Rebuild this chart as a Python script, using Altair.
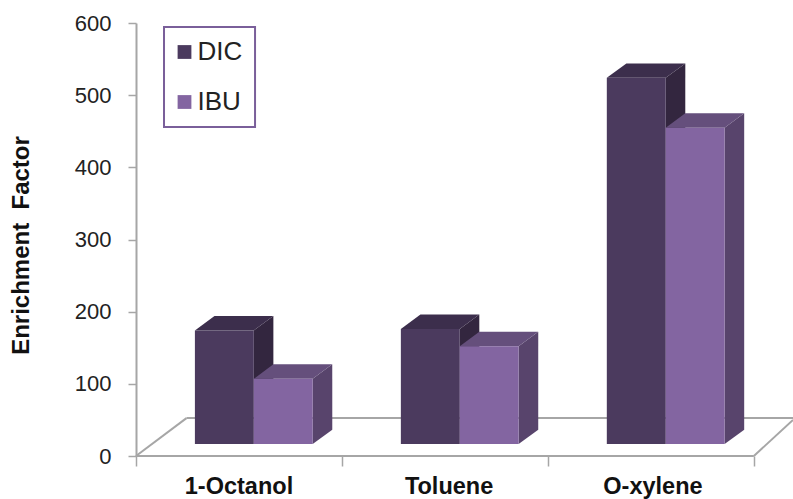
import altair as alt
import pandas as pd

# Solvent groups and enrichment factors per analyte
solvents = ["1-Octanol", "Toluene", "O-xylene"]
dic_values = [174, 176, 524]
ibu_values = [107, 152, 455]

AXIS_GREY = "#A6A6A6"
PALETTE = {
    "DIC": {"front": "#4B3A5E", "side": "#33263F", "top": "#3C2E4C"},
    "IBU": {"front": "#8365A1", "side": "#58446C", "top": "#654F7C"},
}

# Extrusion used for the pseudo-3D look, in axis units
BAR_W = 0.286
GROUP_START = 0.286
DEPTH_X = 0.095
DEPTH_Y = 20
BAR_BASE = 16.5

x_scale = alt.Scale(domain=[0, 3.19], nice=False, zero=False)
y_scale = alt.Scale(domain=[0, 600], nice=False)

fronts, sides, tops = [], [], []
for s_idx, solvent in enumerate(solvents):
    for b_idx, (name, values) in enumerate((("DIC", dic_values), ("IBU", ibu_values))):
        v = values[s_idx]
        x0 = s_idx + GROUP_START + b_idx * BAR_W
        x1 = x0 + BAR_W
        key = f"{solvent}-{name}"
        fronts.append(dict(series=name, x=x0, x2=x1, y=v, y2=BAR_BASE))
        sides += [
            dict(series=name, key=key, x=x1, lo=BAR_BASE, hi=v),
            dict(series=name, key=key, x=x1 + DEPTH_X, lo=BAR_BASE + DEPTH_Y, hi=v + DEPTH_Y),
        ]
        tops += [
            dict(series=name, key=key, x=x0, lo=v, hi=v),
            dict(series=name, key=key, x=x0 + DEPTH_X, lo=v, hi=v + DEPTH_Y),
            dict(series=name, key=key, x=x1, lo=v, hi=v + DEPTH_Y),
            dict(series=name, key=key, x=x1 + DEPTH_X, lo=v + DEPTH_Y, hi=v + DEPTH_Y),
        ]
fronts, sides, tops = pd.DataFrame(fronts), pd.DataFrame(sides), pd.DataFrame(tops)

# Floor outline of the 3D plot box
floor = pd.DataFrame([
    dict(edge="front", x=0, y=0), dict(edge="front", x=3, y=0),
    dict(edge="left", x=0, y=0), dict(edge="left", x=0.245, y=52.5),
    dict(edge="back", x=0.245, y=52.5), dict(edge="back", x=3.19, y=52.5),
    dict(edge="right", x=3, y=0), dict(edge="right", x=3.19, y=50),
])

floor_layer = alt.Chart(floor).mark_line(color=AXIS_GREY, strokeWidth=2).encode(
    x=alt.X("x:Q", scale=x_scale, axis=alt.Axis(
        values=[0, 1, 2, 3], labels=False, title=None, domain=False, grid=False,
        tickColor=AXIS_GREY, tickSize=10, tickWidth=1.5,
    )),
    y=alt.Y("y:Q", scale=y_scale, axis=alt.Axis(
        values=[0, 100, 200, 300, 400, 500, 600], grid=False,
        title="Enrichment\u00a0\u00a0Factor", titleFontSize=24, titleFontWeight="bold",
        titleFont="Liberation Sans", titleColor="#111111", titleX=-103, titleY=222,
        labelFont="Liberation Sans", labelFontSize=22, labelColor="#222222", labelPadding=17,
        domainColor=AXIS_GREY, domainWidth=2, tickColor=AXIS_GREY, tickSize=8, tickWidth=1.5,
    )),
    detail="edge:N",
)

# Frame sitting behind the legend entries
legend_frame = alt.Chart(pd.DataFrame(dict(x=[0.136], x2=[0.578], y=[594.5], y2=[456]))).mark_rect(
    fill="white", stroke="#7A5F9A", strokeWidth=2
).encode(
    x=alt.X("x:Q", scale=x_scale),
    x2="x2:Q",
    y=alt.Y("y:Q", scale=y_scale),
    y2="y2:Q",
)

def face_layer(frame, series, face):
    return alt.Chart(frame[frame.series == series]).mark_area(
        color=PALETTE[series][face], interpolate="linear"
    ).encode(
        x=alt.X("x:Q", scale=x_scale),
        y=alt.Y("lo:Q", scale=y_scale),
        y2="hi:Q",
        detail="key:N",
    )

def front_layer(series):
    return alt.Chart(fronts[fronts.series == series]).mark_bar().encode(
        x=alt.X("x:Q", scale=x_scale),
        x2="x2:Q",
        y=alt.Y("y:Q", scale=y_scale),
        y2="y2:Q",
        color=alt.Color("series:N", scale=alt.Scale(
            domain=["DIC", "IBU"],
            range=[PALETTE["DIC"]["front"], PALETTE["IBU"]["front"]],
        ), legend=alt.Legend(
            orient="none", legendX=35.5, legendY=16, title=None,
            symbolType="square", symbolSize=190, symbolStrokeWidth=0,
            labelFont="Liberation Sans", labelFontSize=26, labelColor="#222222",
            labelOffset=0, rowPadding=24, padding=0,
        )),
    )

bars = []
for series in ("DIC", "IBU"):
    bars += [face_layer(sides, series, "side"), face_layer(tops, series, "top"), front_layer(series)]

labels = alt.Chart(pd.DataFrame(dict(x=[0.5, 1.52, 2.51], label=solvents))).mark_text(
    font="Liberation Sans", fontSize=23.5, fontWeight="bold", color="#111111", baseline="middle"
).encode(
    x=alt.X("x:Q", scale=x_scale),
    y=alt.value(464),
    text="label:N",
)

chart = alt.layer(floor_layer, legend_frame, *bars, labels).properties(
    width=657, height=433,
    padding={"left": 136, "top": 23, "right": 0, "bottom": 43},
    autosize=alt.AutoSizeParams(type="none"),
    background="white",
).configure_view(stroke=None)

chart.save("out.html", embed_options={"renderer": "svg", "actions": False})
